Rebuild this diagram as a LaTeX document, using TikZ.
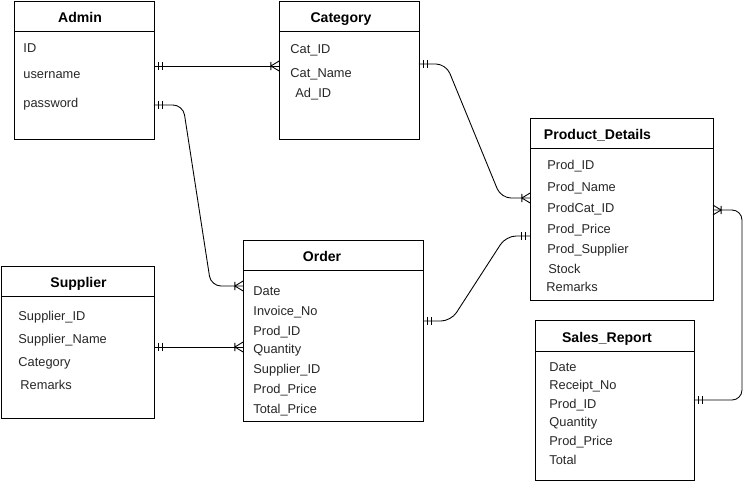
\documentclass[tikz,border=0pt]{standalone}
\usepackage{fontspec}
\setmainfont{Liberation Sans}
\usetikzlibrary{arrows.meta}

\pgfdeclarearrow{
	name = erone,
	setup code = {
		\pgfarrowssettipend{0pt}
		\pgfarrowssetlineend{0pt}
		\pgfarrowssetbackend{-5pt}
		\pgfarrowsupperhullpoint{-5pt}{2.4pt}
		\pgfarrowsupperhullpoint{0pt}{2.4pt}
	},
	drawing code = {
		\pgfpathmoveto{\pgfpoint{-2.8pt}{-2.4pt}}
		\pgfpathlineto{\pgfpoint{-2.8pt}{2.4pt}}
		\pgfpathmoveto{\pgfpoint{-4.6pt}{-2.4pt}}
		\pgfpathlineto{\pgfpoint{-4.6pt}{2.4pt}}
		\pgfusepathqstroke
	}
}
\pgfdeclarearrow{
	name = ermany,
	setup code = {
		\pgfarrowssettipend{0pt}
		\pgfarrowssetlineend{0pt}
		\pgfarrowssetbackend{-5pt}
		\pgfarrowsupperhullpoint{-5pt}{2.8pt}
		\pgfarrowsupperhullpoint{0pt}{2.8pt}
	},
	drawing code = {
		\pgfpathmoveto{\pgfpoint{0pt}{-2.8pt}}
		\pgfpathlineto{\pgfpoint{-4.6pt}{0pt}}
		\pgfpathlineto{\pgfpoint{0pt}{2.8pt}}
		\pgfpathmoveto{\pgfpoint{-4.6pt}{-2.4pt}}
		\pgfpathlineto{\pgfpoint{-4.6pt}{2.4pt}}
		\pgfusepathqstroke
	}
}

\begin{document}
\begin{tikzpicture}[x=0.02cm,y=-0.02cm,line width=0.5pt,
		tbl/.style={draw,inner sep=0,outer sep=0},
		ttl/.style={inner sep=0,text height=1.5ex,text depth=.25ex,font=\fontsize{8}{10}\selectfont\bfseries},
		fld/.style={anchor=west,inner sep=0,text height=1.5ex,text depth=.25ex,text=black!85,font=\fontsize{7.3}{9}\selectfont},
		rel/.style={rounded corners=0.2cm}]
		\useasboundingbox (0,0) rectangle (752,481);
		
		\node[tbl,minimum width=2.8cm,minimum height=2.76cm] (adm) at (84,70) {};
		\draw ([yshift=-0.6cm]adm.north west) -- ([yshift=-0.6cm]adm.north east);
		\node[ttl] (admt) at (80,17) {Admin};
		\node[fld] (adm1) at (23,47) {ID};
		\node[fld] (adm2) at (23,73) {username};
		\node[fld] (adm3) at (23,102) {password};
		
		\node[tbl,minimum width=2.8cm,minimum height=2.76cm] (cat) at (349,70) {};
		\draw ([yshift=-0.6cm]cat.north west) -- ([yshift=-0.6cm]cat.north east);
		\node[ttl] (catt) at (341,17) {Category};
		\node[fld] (cat1) at (290,48) {Cat\_ID};
		\node[fld] (cat2) at (290,72) {Cat\_Name};
		\node[fld] (cat3) at (295,92) {Ad\_ID};
		
		\node[tbl,minimum width=3.66cm,minimum height=3.64cm] (pd) at (621.5,209) {};
		\draw ([yshift=-0.6cm]pd.north west) -- ([yshift=-0.6cm]pd.north east);
		\node[ttl] (pdt) at (597.5,134) {Product\_Details};
		\node[fld] (pd1) at (547,164) {Prod\_ID};
		\node[fld] (pd2) at (547,186) {Prod\_Name};
		\node[fld] (pd3) at (547,207) {ProdCat\_ID};
		\node[fld] (pd4) at (547,228) {Prod\_Price};
		\node[fld] (pd5) at (547,248) {Prod\_Supplier};
		\node[fld] (pd6) at (548,268) {Stock};
		\node[fld] (pd7) at (546,286) {Remarks};
		
		\node[tbl,minimum width=3.6cm,minimum height=3.62cm] (ord) at (333,330.5) {};
		\draw ([yshift=-0.6cm]ord.north west) -- ([yshift=-0.6cm]ord.north east);
		\node[ttl] (ordt) at (322,256) {Order};
		\node[fld] (ord1) at (253,290) {Date};
		\node[fld] (ord2) at (253,310) {Invoice\_No};
		\node[fld] (ord3) at (253,330) {Prod\_ID};
		\node[fld] (ord4) at (253,348) {Quantity};
		\node[fld] (ord5) at (253,368) {Supplier\_ID};
		\node[fld] (ord6) at (253,388) {Prod\_Price};
		\node[fld] (ord7) at (253,408) {Total\_Price};
		
		\node[tbl,minimum width=3.06cm,minimum height=3.04cm] (sup) at (77.5,342) {};
		\draw ([yshift=-0.6cm]sup.north west) -- ([yshift=-0.6cm]sup.north east);
		\node[ttl] (supt) at (78.5,282) {Supplier};
		\node[fld] (sup1) at (18,315) {Supplier\_ID};
		\node[fld] (sup2) at (18,338) {Supplier\_Name};
		\node[fld] (sup3) at (18,361) {Category};
		\node[fld] (sup4) at (20,384) {Remarks};
		
		\node[tbl,minimum width=3.18cm,minimum height=3.2cm] (sr) at (614.5,400) {};
		\draw ([yshift=-0.62cm]sr.north west) -- ([yshift=-0.62cm]sr.north east);
		\node[ttl] (srt) at (607,337) {Sales\_Report};
		\node[fld] (sr1) at (549,366) {Date};
		\node[fld] (sr2) at (549,384) {Receipt\_No};
		\node[fld] (sr3) at (549,403) {Prod\_ID};
		\node[fld] (sr4) at (549,421) {Quantity};
		\node[fld] (sr5) at (549,440) {Prod\_Price};
		\node[fld] (sr6) at (549,459) {Total};
		
		\draw[{erone}-{ermany}] (adm.east |- 0,66) -- (cat.west |- 0,66);
		\draw[rel,{erone}-{ermany}] (adm.east |- 0,105) -- (183,105) -- (211,286) -- (ord.west |- 0,286);
		\draw[rel,{erone}-{ermany}] (cat.east |- 0,64) -- (446,64) -- (501,198) -- (pd.west |- 0,198);
		\draw[rel,{erone}-{erone}] (ord.east |- 0,321) -- (451,321) -- (506,236) -- (pd.west |- 0,236);
		\draw[rel,{ermany}-{erone}] (pd.east |- 0,210) -- (742,210) -- (742,400) -- (sr.east |- 0,400);
		\draw[{erone}-{ermany}] (sup.east |- 0,347) -- (ord.west |- 0,347);
\end{tikzpicture}
\end{document}
